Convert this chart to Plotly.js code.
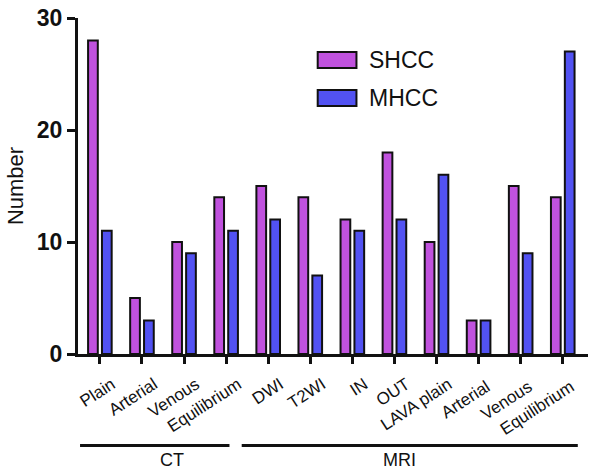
<!DOCTYPE html>
<html>
<head>
<meta charset="utf-8">
<script src="https://cdn.plot.ly/plotly-3.0.1.min.js"></script>
<style>
  html, body { margin: 0; padding: 0; background: #fff; }
  #chart { width: 602px; height: 472px; }
</style>
</head>
<body>
<div id="chart"></div>
<script>
// categories along the x axis (CT: first 4, MRI: last 8)
const categories = ["Plain", "Arterial", "Venous", "Equilibrium", "DWI", "T2WI", "IN",
  "OUT", "LAVA plain", "Arterial ", "Venous ", "Equilibrium "];
const shcc = [28, 5, 10, 14, 15, 14, 12, 18, 10, 3, 15, 14];
const mhcc = [11, 3, 9, 11, 12, 7, 11, 12, 16, 3, 9, 27];
const yTicks = [0, 10, 20, 30];
const seriesNames = ["SHCC", "MHCC"];
const seriesColors = ["#c052de", "#5252f2"];

const font = "Liberation Sans, Arial, sans-serif";

const traces = [shcc, mhcc].map((vals, i) => ({
  x: categories, y: vals, type: "bar", name: seriesNames[i],
  marker: { color: seriesColors[i], line: { color: "#111", width: 2 } }
}));

// hand-drawn legend so the swatches are wide boxes like the original
const legendShapes = [], legendText = [];
seriesNames.forEach((nm, i) => {
  const yc = 0.875 - i * 0.113;
  legendShapes.push({
    type: "rect", xref: "paper", yref: "paper",
    x0: 0.47, x1: 0.546, y0: yc - 0.024, y1: yc + 0.024,
    fillcolor: seriesColors[i], line: { color: "#111", width: 2 }
  });
  legendText.push({
    text: nm, xref: "paper", yref: "paper", x: 0.566, y: yc,
    xanchor: "left", yanchor: "middle", showarrow: false,
    font: { family: font, size: 23, color: "#111" }
  });
});

const layout = {
  width: 602, height: 472,
  margin: { l: 78, r: 14, t: 18, b: 118 },
  paper_bgcolor: "#fff", plot_bgcolor: "#fff",
  barmode: "group", bargap: 0.34, bargroupgap: 0.3,
  showlegend: false,
  xaxis: {
    type: "category", range: [-0.52, 11.6],
    showline: true, linecolor: "#111", linewidth: 3,
    ticks: "outside", ticklen: 7, tickwidth: 3, tickcolor: "#111",
    tickangle: -33, ticklabelshift: 12, ticklabelstandoff: 4,
    showgrid: false, zeroline: false,
    tickfont: { family: font, size: 17, color: "#111" }
  },
  yaxis: {
    range: [0, 30], tickvals: yTicks,
    showline: true, linecolor: "#111", linewidth: 3,
    ticks: "outside", ticklen: 8, tickwidth: 3, tickcolor: "#111",
    showgrid: false, zeroline: false,
    tickfont: { family: font, size: 23, color: "#111", weight: "bold" },
    title: { text: "Number", font: { family: font, size: 22, color: "#111" }, standoff: 8 }
  },
  shapes: [
    { type: "line", xref: "paper", yref: "paper", x0: 0.004, x1: 0.297, y0: -0.272, y1: -0.272,
      line: { color: "#111", width: 3 } },
    { type: "line", xref: "paper", yref: "paper", x0: 0.321, x1: 0.98, y0: -0.272, y1: -0.272,
      line: { color: "#111", width: 3 } }
  ].concat(legendShapes),
  annotations: [
    { text: "CT", xref: "paper", yref: "paper", x: 0.156, y: -0.28, yanchor: "top",
      showarrow: false, font: { family: font, size: 18, color: "#111" } },
    { text: "MRI", xref: "paper", yref: "paper", x: 0.667, y: -0.28, yanchor: "top",
      showarrow: false, font: { family: font, size: 18, color: "#111" } }
  ].concat(legendText)
};

Plotly.newPlot("chart", traces, layout, { displayModeBar: false, staticPlot: true });
</script>
</body>
</html>
